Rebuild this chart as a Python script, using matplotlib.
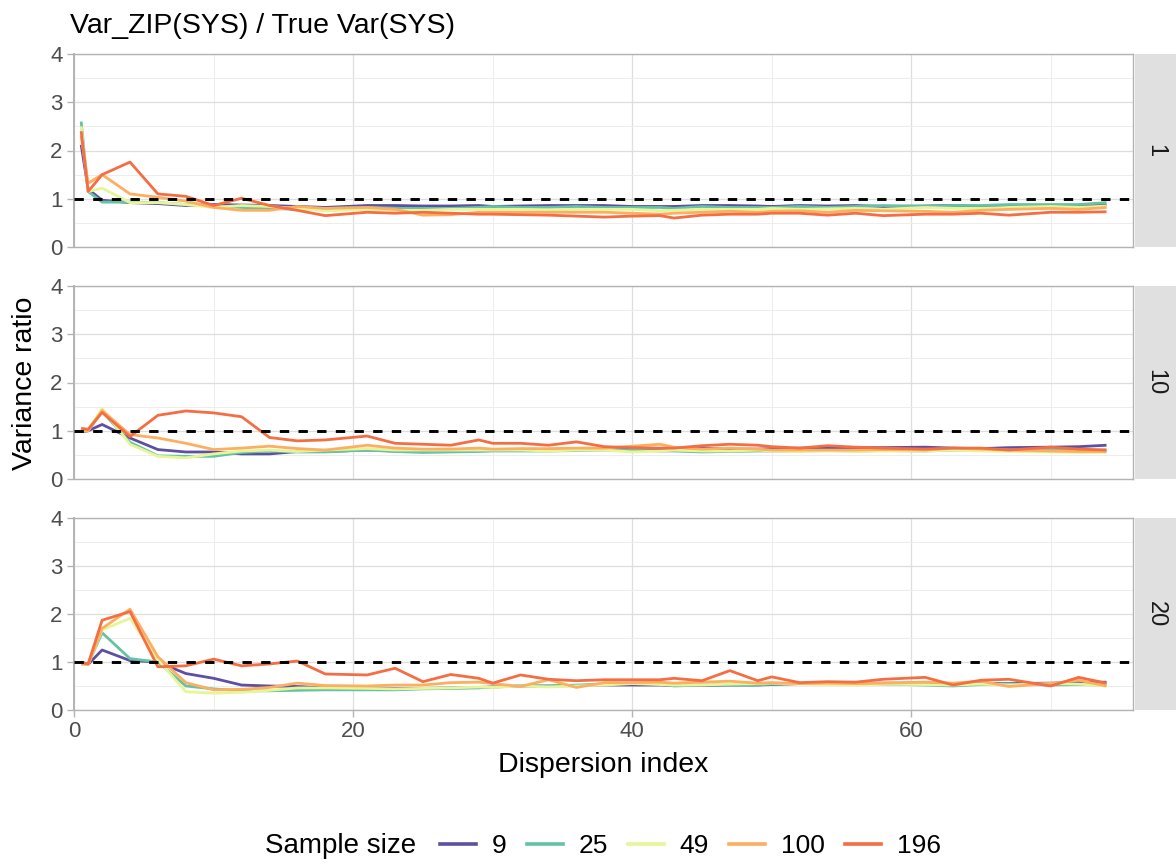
import matplotlib
matplotlib.use("Agg")
import matplotlib.pyplot as plt
from matplotlib.lines import Line2D
from matplotlib.ticker import MultipleLocator

plt.rcParams["font.family"] = ["Liberation Sans", "DejaVu Sans"]

# dispersion index values (shared by all panels)
disp_index = [0.5, 1, 2, 4, 6, 8, 10, 12, 14, 16, 18, 21, 23, 25, 27, 29, 30,
              32, 34, 36, 38, 40, 42, 43, 45, 47, 49, 50, 52, 54, 56, 58, 61,
              63, 65, 67, 70, 72, 74]

sample_sizes = ["9", "25", "49", "100", "196"]
facets = ["1", "10", "20"]

# facet "1"
f1_n9 = [2.12, 1.20, 0.97, 0.92, 0.90, 0.86, 0.88, 0.87, 0.86, 0.84, 0.82, 0.86, 0.86,
         0.85, 0.85, 0.86, 0.84, 0.85, 0.86, 0.86, 0.86, 0.84, 0.84, 0.84, 0.86, 0.86,
         0.85, 0.84, 0.86, 0.85, 0.86, 0.84, 0.85, 0.86, 0.84, 0.86, 0.85, 0.86, 0.87]
f1_n25 = [2.60, 1.15, 0.93, 0.93, 0.92, 0.88, 0.86, 0.82, 0.80, 0.78, 0.80, 0.82, 0.80,
          0.80, 0.80, 0.82, 0.84, 0.82, 0.82, 0.84, 0.82, 0.82, 0.82, 0.80, 0.84, 0.82,
          0.82, 0.82, 0.84, 0.82, 0.84, 0.86, 0.84, 0.86, 0.86, 0.88, 0.88, 0.88, 0.92]
f1_n49 = [2.50, 1.15, 1.22, 0.92, 0.92, 0.88, 0.82, 0.86, 0.84, 0.80, 0.75, 0.78, 0.76,
          0.76, 0.78, 0.78, 0.78, 0.78, 0.77, 0.78, 0.78, 0.78, 0.75, 0.76, 0.78, 0.78,
          0.78, 0.80, 0.78, 0.79, 0.80, 0.78, 0.82, 0.80, 0.80, 0.82, 0.84, 0.82, 0.85]
f1_n100 = [2.30, 1.32, 1.50, 1.10, 1.03, 0.95, 0.82, 0.76, 0.76, 0.84, 0.80, 0.82, 0.78,
           0.66, 0.67, 0.72, 0.72, 0.72, 0.72, 0.72, 0.72, 0.70, 0.68, 0.70, 0.72, 0.74,
           0.72, 0.74, 0.75, 0.72, 0.76, 0.75, 0.74, 0.72, 0.76, 0.78, 0.80, 0.78, 0.82]
f1_n196 = [2.40, 1.15, 1.50, 1.76, 1.10, 1.05, 0.86, 1.01, 0.86, 0.76, 0.65, 0.72, 0.70,
           0.72, 0.70, 0.68, 0.68, 0.67, 0.66, 0.64, 0.62, 0.64, 0.65, 0.60, 0.66, 0.68,
           0.68, 0.70, 0.70, 0.66, 0.70, 0.65, 0.68, 0.68, 0.70, 0.66, 0.72, 0.72, 0.73]

# facet "10"
f10_n9 = [0.98, 1.00, 1.13, 0.85, 0.61, 0.56, 0.56, 0.52, 0.52, 0.57, 0.57, 0.60, 0.58,
          0.57, 0.57, 0.60, 0.60, 0.60, 0.61, 0.62, 0.62, 0.63, 0.62, 0.62, 0.64, 0.62,
          0.62, 0.63, 0.64, 0.64, 0.65, 0.65, 0.66, 0.64, 0.63, 0.65, 0.66, 0.67, 0.70]
f10_n25 = [0.98, 1.00, 1.40, 0.76, 0.48, 0.47, 0.47, 0.55, 0.58, 0.56, 0.56, 0.60, 0.57,
           0.55, 0.56, 0.57, 0.58, 0.58, 0.58, 0.59, 0.60, 0.60, 0.58, 0.58, 0.56, 0.57,
           0.58, 0.58, 0.58, 0.59, 0.58, 0.59, 0.58, 0.60, 0.60, 0.60, 0.60, 0.60, 0.60]
f10_n49 = [1.00, 1.02, 1.46, 0.72, 0.47, 0.44, 0.52, 0.58, 0.60, 0.57, 0.60, 0.63, 0.60,
           0.60, 0.60, 0.60, 0.60, 0.60, 0.58, 0.60, 0.60, 0.56, 0.58, 0.60, 0.58, 0.58,
           0.60, 0.58, 0.57, 0.58, 0.57, 0.58, 0.58, 0.60, 0.58, 0.57, 0.56, 0.55, 0.55]
f10_n100 = [1.00, 1.00, 1.42, 0.92, 0.85, 0.74, 0.61, 0.64, 0.68, 0.63, 0.60, 0.70, 0.64,
            0.62, 0.62, 0.64, 0.62, 0.63, 0.63, 0.64, 0.64, 0.68, 0.72, 0.66, 0.62, 0.64,
            0.62, 0.60, 0.60, 0.60, 0.60, 0.61, 0.60, 0.64, 0.62, 0.60, 0.58, 0.57, 0.57]
f10_n196 = [1.05, 1.03, 1.38, 0.88, 1.32, 1.41, 1.37, 1.29, 0.86, 0.79, 0.81, 0.89, 0.74,
            0.72, 0.70, 0.81, 0.74, 0.74, 0.70, 0.77, 0.67, 0.65, 0.64, 0.64, 0.69, 0.72,
            0.70, 0.67, 0.64, 0.69, 0.66, 0.64, 0.62, 0.64, 0.64, 0.60, 0.66, 0.62, 0.60]

# facet "20"
f20_n9 = [1.00, 0.95, 1.25, 1.03, 1.00, 0.76, 0.66, 0.52, 0.50, 0.49, 0.46, 0.46, 0.45,
          0.45, 0.46, 0.47, 0.48, 0.50, 0.50, 0.51, 0.52, 0.52, 0.52, 0.51, 0.51, 0.52,
          0.52, 0.53, 0.55, 0.55, 0.55, 0.56, 0.56, 0.54, 0.55, 0.55, 0.56, 0.57, 0.58]
f20_n25 = [0.96, 0.96, 1.61, 1.07, 1.00, 0.50, 0.44, 0.40, 0.40, 0.41, 0.42, 0.42, 0.42,
           0.44, 0.45, 0.46, 0.48, 0.50, 0.50, 0.52, 0.54, 0.56, 0.55, 0.50, 0.52, 0.52,
           0.52, 0.54, 0.55, 0.56, 0.56, 0.54, 0.52, 0.50, 0.53, 0.54, 0.52, 0.53, 0.52]
f20_n49 = [0.97, 0.95, 1.67, 1.91, 1.05, 0.38, 0.35, 0.37, 0.41, 0.46, 0.46, 0.45, 0.44,
           0.45, 0.46, 0.48, 0.47, 0.50, 0.48, 0.50, 0.52, 0.55, 0.53, 0.52, 0.52, 0.54,
           0.55, 0.56, 0.54, 0.53, 0.52, 0.54, 0.53, 0.52, 0.54, 0.52, 0.55, 0.54, 0.50]
f20_n100 = [0.96, 0.95, 1.70, 2.10, 1.11, 0.57, 0.42, 0.43, 0.47, 0.56, 0.51, 0.50, 0.52,
            0.52, 0.57, 0.58, 0.55, 0.49, 0.63, 0.47, 0.57, 0.57, 0.58, 0.56, 0.58, 0.60,
            0.56, 0.57, 0.55, 0.56, 0.55, 0.56, 0.58, 0.56, 0.60, 0.49, 0.55, 0.62, 0.50]
f20_n196 = [0.99, 0.96, 1.87, 2.05, 0.90, 0.92, 1.06, 0.92, 0.96, 1.02, 0.75, 0.73, 0.87,
            0.59, 0.74, 0.66, 0.56, 0.73, 0.64, 0.61, 0.63, 0.63, 0.63, 0.66, 0.61, 0.82,
            0.61, 0.69, 0.57, 0.59, 0.58, 0.64, 0.68, 0.52, 0.62, 0.64, 0.50, 0.68, 0.56]

panel_data = [
    [f1_n9, f1_n25, f1_n49, f1_n100, f1_n196],
    [f10_n9, f10_n25, f10_n49, f10_n100, f10_n196],
    [f20_n9, f20_n25, f20_n49, f20_n100, f20_n196],
]

colors = ["#5E4FA2", "#66C2A5", "#E6F598", "#FDAE61", "#F46D43"]

W, H = 1176, 864
fig = plt.figure(figsize=(W / 100, H / 100), dpi=100)

left = 73.5 / W
width = (1133 - 73.5) / W
panel_px = [(54, 247), (286, 479), (518, 710)]
border = "#B3B3B3"
big = 20.5
small = 16

for i, (top, bot) in enumerate(panel_px):
    ax = fig.add_axes([left, 1 - bot / H, width, (bot - top) / H])
    for vals, c in zip(panel_data[i], colors):
        ax.plot(disp_index, vals, color=c, lw=2.0, solid_capstyle="butt", zorder=3)
    ax.axhline(1, color="black", lw=2.1, dashes=(3.2, 3.2), zorder=4)
    ax.set_xlim(-0.05, 75.9)
    ax.set_ylim(0, 4)
    ax.xaxis.set_major_locator(MultipleLocator(20))
    ax.xaxis.set_minor_locator(MultipleLocator(10))
    ax.yaxis.set_major_locator(MultipleLocator(1))
    ax.yaxis.set_minor_locator(MultipleLocator(0.5))
    ax.grid(which="major", color="#DEDEDE", lw=0.9, zorder=0)
    ax.grid(which="minor", color="#EDEDED", lw=0.7, zorder=0)
    ax.set_axisbelow(True)
    for s in ax.spines.values():
        s.set_color(border)
        s.set_linewidth(1.0)
    ax.spines["left"].set_linewidth(1.4)
    ax.tick_params(which="minor", length=0)
    ax.tick_params(axis="y", which="major", length=5, width=1.0, color=border,
                   labelsize=small, labelcolor="#4D4D4D", pad=3)
    if i < 2:
        ax.tick_params(axis="x", which="major", length=0, labelbottom=False)
    else:
        ax.tick_params(axis="x", which="major", length=5, width=1.0, color=border,
                       labelsize=small, labelcolor="#4D4D4D", pad=3)

    # facet strip on the right
    sax = fig.add_axes([1135 / W, 1 - bot / H, (W - 1135) / W, (bot - top) / H])
    sax.set_facecolor("#E0E0E0")
    sax.set_xticks([])
    sax.set_yticks([])
    for s in sax.spines.values():
        s.set_visible(False)
    sax.text(0.5, 0.5, facets[i], rotation=-90, ha="center", va="center",
             fontsize=17, color="#1A1A1A", transform=sax.transAxes)

fig.text(70 / W, 1 - 26 / H, "Var_ZIP(SYS) / True Var(SYS)", fontsize=big,
         ha="left", va="center", color="black")
fig.text(25 / W, 1 - 383 / H, "Variance ratio", fontsize=big, rotation=90,
         ha="center", va="center")
fig.text(603 / W, 1 - 765 / H, "Dispersion index", fontsize=big,
         ha="center", va="center")

fig.text(265 / W, 1 - 846 / H, "Sample size", fontsize=20, ha="left", va="center")
handles = [Line2D([], [], color=c, lw=2.6) for c in colors]
fig.legend(handles, sample_sizes, loc="center", ncol=5,
           bbox_to_anchor=(690.5 / W, 1 - 846 / H), frameon=False,
           fontsize=19, handlelength=1.36, handletextpad=0.6,
           columnspacing=0.76, borderpad=0, borderaxespad=0)

fig.savefig("out.png", dpi=100)
